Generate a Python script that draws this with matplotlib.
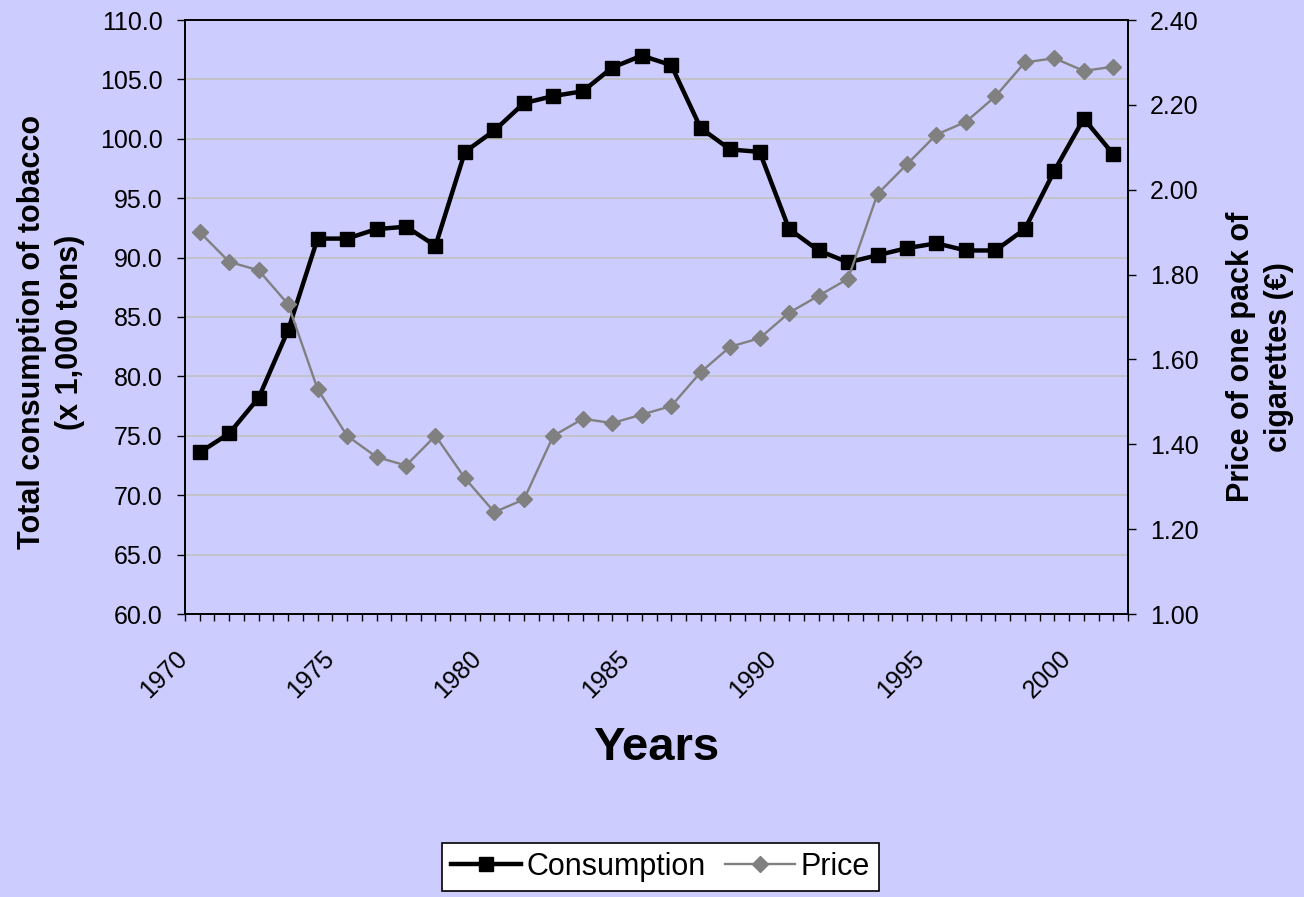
import matplotlib.pyplot as plt
import numpy as np
from matplotlib.ticker import FixedLocator, FormatStrFormatter
from matplotlib.transforms import ScaledTranslation

plt.rcParams['font.family'] = ['Liberation Sans', 'DejaVu Sans']

# Données
years = list(range(1970, 2002))
consumption = [73.6, 75.2, 78.2, 83.9, 91.6, 91.6, 92.4, 92.6, 91.0, 98.9,
               100.7, 103.0, 103.6, 104.0, 106.0, 107.0, 106.2, 100.9, 99.1, 98.9,
               92.4, 90.6, 89.6, 90.2, 90.8, 91.2, 90.6, 90.6, 92.4, 97.3,
               101.7, 98.7]
price = [1.90, 1.83, 1.81, 1.73, 1.53, 1.42, 1.37, 1.35, 1.42, 1.32,
         1.24, 1.27, 1.42, 1.46, 1.45, 1.47, 1.49, 1.57, 1.63, 1.65,
         1.71, 1.75, 1.79, 1.99, 2.06, 2.13, 2.16, 2.22, 2.30, 2.31,
         2.28, 2.29]
year_labels = [str(y) for y in range(1970, 2001, 5)]

bg = '#CCCCFF'
fig = plt.figure(figsize=(13.04, 8.97), dpi=100, facecolor=bg)
ax = fig.add_axes([185 / 1304, 1 - 614 / 897, 943 / 1304, 594 / 897])
ax.set_facecolor(bg)
ax2 = ax.twinx()

x = np.arange(len(years))

# Consommation (axe gauche), prix (axe droit, dessiné par-dessus)
l1, = ax.plot(x, consumption, color='black', lw=3.2, marker='s', ms=9.8,
              mec='black', mfc='black', label='Consumption')
l2, = ax2.plot(x, price, color='#808080', lw=1.7, marker='D', ms=7.8,
               mec='#808080', mfc='#808080', label='Price')

# Axe gauche
ax.set_ylim(60, 110)
ax.set_yticks(np.arange(60, 110.1, 5))
ax.yaxis.set_major_formatter(FormatStrFormatter('%.1f'))
ax.grid(axis='y', color='#C0C0C0', lw=1.2)
ax.set_axisbelow(True)

# Axe droit
ax2.set_ylim(1.0, 2.4)
ax2.set_yticks(np.arange(1.0, 2.41, 0.2))
ax2.yaxis.set_major_formatter(FormatStrFormatter('%.2f'))

# Axe des x
ax.set_xlim(-0.5, len(years) - 0.5)
label_pos = [years.index(int(y)) for y in year_labels]
ax.set_xticks(label_pos)
ax.set_xticklabels(year_labels, rotation=45, ha='right', va='top',
                   rotation_mode='anchor')
ax.xaxis.remove_overlapping_locs = False
ax.xaxis.set_minor_locator(FixedLocator(np.arange(-0.5, len(years), 0.5)))
ax.tick_params(axis='x', which='major', length=0, pad=23, labelsize=18)
ax.tick_params(axis='x', which='minor', length=5, width=1, direction='out')
ax.tick_params(axis='y', length=6, width=1, direction='out', labelsize=18, pad=10)
ax2.tick_params(axis='y', length=6, width=1, direction='out', labelsize=18, pad=10)
shift = ScaledTranslation(-25 / 100, 0, fig.dpi_scale_trans)
for lab in ax.get_xticklabels():
    lab.set_transform(lab.get_transform() + shift)

for a in (ax, ax2):
    for s in a.spines.values():
        s.set_color('black')
        s.set_linewidth(1.2)

fig.text(51 / 1304, 1 - 332 / 897, 'Total consumption of tobacco\n(x 1,000 tons)',
         fontsize=22, fontweight='bold', rotation=90, ha='center', va='center',
         multialignment='center', linespacing=1.35)
fig.text(1260 / 1304, 1 - 357 / 897, 'Price of one pack of\ncigarettes (€)',
         fontsize=22, fontweight='bold', rotation=90, ha='center', va='center',
         multialignment='center', linespacing=1.35)
fig.text(656 / 1304, 1 - 748 / 897, 'Years', fontsize=34, fontweight='bold',
         ha='center', va='center')

leg = fig.legend(handles=[l1, l2], loc='upper left', ncol=2,
                 bbox_to_anchor=(442 / 1304, 1 - 843 / 897),
                 frameon=True, fancybox=False, edgecolor='black',
                 facecolor='white', framealpha=1, fontsize=22,
                 handlelength=2.3, handletextpad=0.18, columnspacing=0.6,
                 borderpad=0.3, borderaxespad=0)
leg.get_frame().set_linewidth(1.2)

fig.savefig('out.png', dpi=100, facecolor=bg)
